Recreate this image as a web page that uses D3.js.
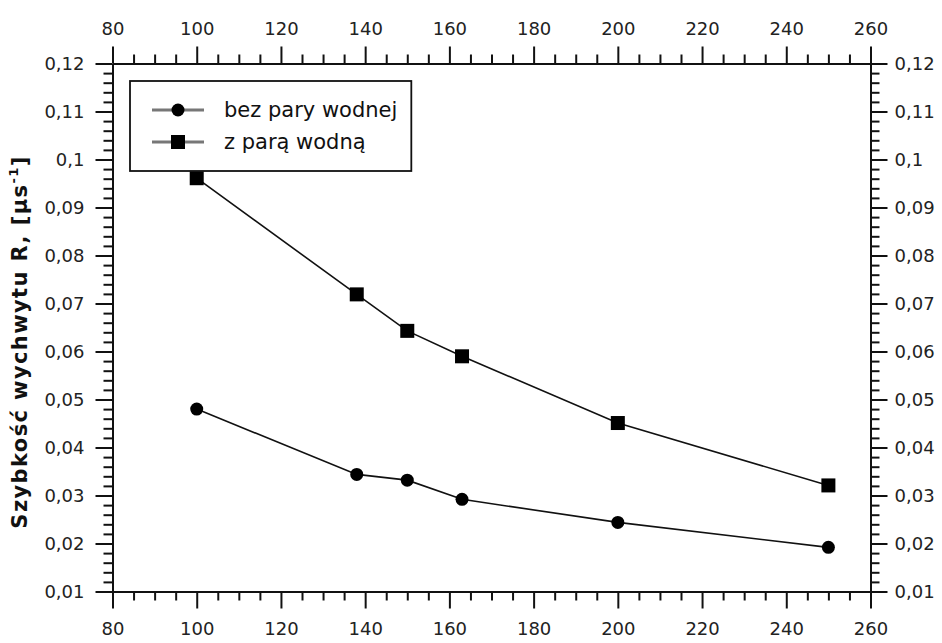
<!DOCTYPE html>
<html>
<head>
<meta charset="utf-8">
<script src="https://cdn.jsdelivr.net/npm/d3@7/dist/d3.min.js"></script>
<style>
  body { margin: 0; background: #fff; }
  svg { display: block; font-family: "DejaVu Sans", Verdana, sans-serif; }
  .axis path, .axis line { stroke: #111; }
</style>
</head>
<body>
<div id="chart"></div>
<script>
// temperatura (oś X)
var temps = [100, 138, 150, 163, 200, 250];
// szybkość wychwytu R
var bezPary = [0.048, 0.0344, 0.0332, 0.0292, 0.0244, 0.0192];
var zPara = [0.0961, 0.0719, 0.0643, 0.059, 0.0451, 0.0321];
var seriesNames = ["bez pary wodnej", "z parą wodną"];
var xMajor = [80, 100, 120, 140, 160, 180, 200, 220, 240, 260];
var yMajor = [0.01, 0.02, 0.03, 0.04, 0.05, 0.06, 0.07, 0.08, 0.09, 0.1, 0.11, 0.12];
var yTitle = "Szybkość wychwytu R, [µs";

var W = 942, H = 643;
var svg = d3.select("#chart").append("svg").attr("width", W).attr("height", H);

var x = d3.scaleLinear().domain([80, 260]).range([112.5, 870.5]);
var y = d3.scaleLinear().domain([0.01, 0.12]).range([591.5, 63.5]);

var xMinor = d3.range(80, 261, 5).filter(function(v) { return v % 20 != 0; });
var yMinor = d3.range(10, 121, 2).filter(function(v) { return v % 10 != 0; }).map(function(v) { return v / 1000; });

function fmt(d) { return String(+d.toFixed(2)).replace(".", ","); }

function addAxis(gen, minorVals, majorVals, tx, ty, pad) {
    var g = svg.append("g").attr("class", "axis").attr("transform", "translate(" + tx + "," + ty + ")");
    // minor ticks first
    g.append("g").call(gen.tickValues(minorVals).tickSize(9).tickSizeOuter(0).tickFormat(""))
        .selectAll("path").remove();
    var m = g.append("g").call(gen.tickValues(majorVals).tickSize(17).tickSizeOuter(0).tickPadding(pad).tickFormat(fmt));
    m.attr("font-size", null).attr("font-family", null);
    m.selectAll("text").style("font-size", "18px").style("font-family", "DejaVu Sans").attr("fill", "#222");
    g.selectAll("path, line").attr("stroke-width", 2);
    return g;
}

addAxis(d3.axisBottom(x), xMinor, xMajor, 0, 591.5, 14);
addAxis(d3.axisTop(x), xMinor, xMajor, 0, 63.5, 12);
addAxis(d3.axisLeft(y), yMinor, yMajor, 112.5, 0, 11);
addAxis(d3.axisRight(y), yMinor, yMajor, 870.5, 0, 7);

// tytuł osi Y
var t = svg.append("text")
    .attr("transform", "translate(27," + 342 + ") rotate(-90)")
    .attr("text-anchor", "middle")
    .attr("font-size", 21)
    .attr("font-weight", "bold")
    .attr("letter-spacing", 1.4)
    .attr("fill", "#111");
t.append("tspan").text(yTitle);
t.append("tspan").attr("dy", -9).attr("font-size", 13).text("-1");
t.append("tspan").attr("dy", 9).text("]");

var line = d3.line()
    .x(function(d, i) { return x(temps[i]); })
    .y(function(d) { return y(d); });

svg.append("path").datum(bezPary).attr("d", line)
    .attr("fill", "none").attr("stroke", "#111").attr("stroke-width", 1.6);
svg.append("path").datum(zPara).attr("d", line)
    .attr("fill", "none").attr("stroke", "#111").attr("stroke-width", 1.6);

svg.selectAll(".pt1").data(bezPary).enter().append("circle")
    .attr("class", "pt1")
    .attr("cx", function(d, i) { return x(temps[i]); })
    .attr("cy", function(d) { return y(d); })
    .attr("r", 6.5).attr("fill", "#000");

svg.selectAll(".pt2").data(zPara).enter().append("rect")
    .attr("class", "pt2")
    .attr("x", function(d, i) { return x(temps[i]) - 7; })
    .attr("y", function(d) { return y(d) - 7; })
    .attr("width", 14).attr("height", 14).attr("fill", "#000");

// legenda
var leg = svg.append("g");
var box = leg.append("rect").attr("x", 130).attr("y", 81).attr("height", 90)
    .attr("fill", "#fff").attr("stroke", "#111").attr("stroke-width", 1.8);
var rows = [110, 142];
var maxEnd = 0;
seriesNames.forEach(function(name, i) {
    leg.append("line").attr("x1", 152).attr("x2", 204).attr("y1", rows[i]).attr("y2", rows[i])
        .attr("stroke", "#777").attr("stroke-width", 3);
    if (i == 0) {
        leg.append("circle").attr("cx", 178).attr("cy", rows[i]).attr("r", 6.5).attr("fill", "#000");
    } else {
        leg.append("rect").attr("x", 171).attr("y", rows[i] - 7).attr("width", 14).attr("height", 14).attr("fill", "#000");
    }
    var tx = leg.append("text").attr("x", 224).attr("y", rows[i]).attr("dy", "0.35em")
        .attr("font-size", 21).attr("fill", "#111").text(name);
    maxEnd = Math.max(maxEnd, 224 + tx.node().getComputedTextLength());
});
box.attr("width", maxEnd + 14 - 130);
</script>
</body>
</html>
